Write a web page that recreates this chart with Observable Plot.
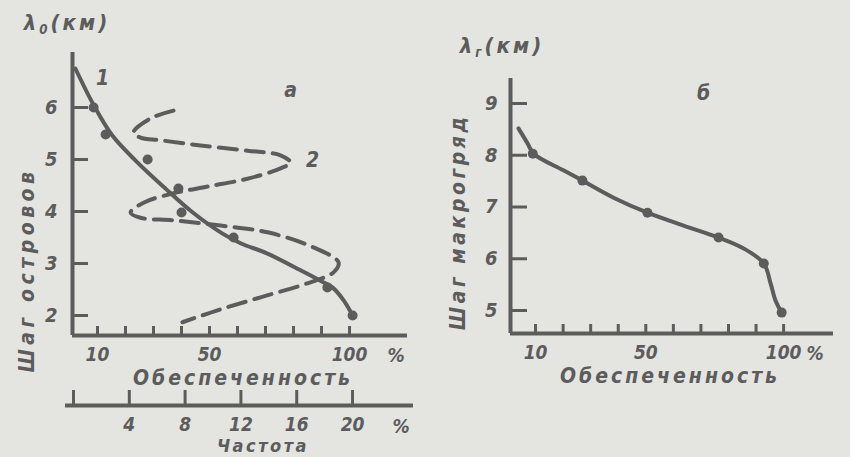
<!DOCTYPE html>
<html><head><meta charset="utf-8">
<script src="https://cdn.jsdelivr.net/npm/d3@7"></script>
<script src="https://cdn.jsdelivr.net/npm/@observablehq/plot@0.6"></script>
<style>
body{margin:0;background:#e4e4e1;}
#wrap{position:relative;width:850px;height:457px;overflow:hidden;background:#e4e4e1;font-family:"DejaVu Sans Condensed","DejaVu Sans";font-stretch:condensed;font-style:italic;font-weight:bold;color:#5c5c5c;}
#wrap svg{position:absolute;top:0;overflow:visible;}
#wrap svg text{font-style:italic;font-weight:bold;font-stretch:condensed;}
.lbl{position:absolute;white-space:nowrap;line-height:1;transform:translate(-50%,-50%);}
.lbl sub{font-size:60%;vertical-align:-0.35em;}
</style></head>
<body><div id="wrap"></div>
<script>
const INK = "#5c5c5c";

// ---- Panel а: curve 1 (Обеспеченность, %) vs Шаг островов λ0 (км)
const a_curve_p = [2.1, 8.7, 15.3, 23.6, 34.3, 43.8, 54.5, 61.1, 70.7, 82.5, 89.6, 93.9, 97.9, 101.1];
const a_curve_y = [6.75, 6.04, 5.46, 4.98, 4.44, 3.99, 3.58, 3.39, 3.19, 2.87, 2.67, 2.54, 2.29, 2.0];
const a_dots_p = [8.6, 12.9, 27.9, 38.9, 40.0, 58.6, 92.1, 101.1];
const a_dots_y = [6.0, 5.48, 5.0, 4.44, 3.98, 3.5, 2.54, 2.0];
// ---- Panel а: curve 2 (Частота, %) vs Шаг островов
const a_freq_f = [7.17, 5.52, 4.30, 4.80, 6.24, 9.10, 12.47, 14.84, 15.56, 14.84, 12.47, 9.61, 7.17, 5.02, 4.09, 4.80, 7.17, 10.54, 13.91, 17.20, 19.0, 18.64, 16.77, 13.41, 10.32, 7.81];
const a_freq_y = [5.94, 5.79, 5.52, 5.42, 5.37, 5.27, 5.17, 5.08, 4.94, 4.83, 4.63, 4.48, 4.35, 4.17, 3.98, 3.88, 3.83, 3.73, 3.60, 3.31, 3.02, 2.83, 2.62, 2.35, 2.10, 1.87];
// ---- Panel б: Обеспеченность vs Шаг макрогряд λг (км)
const b_curve_p = [3.8, 7.1, 9.3, 20.1, 27.0, 38.3, 50.6, 63.7, 76.4, 85.5, 92.8, 95.3, 97.1, 99.3];
const b_curve_y = [8.52, 8.23, 8.03, 7.71, 7.51, 7.18, 6.89, 6.64, 6.41, 6.20, 5.91, 5.52, 5.19, 4.96];
const b_dots_p = [9.0, 27.0, 50.6, 76.4, 92.8, 99.3];
const b_dots_y = [8.03, 7.51, 6.89, 6.41, 5.91, 4.96];

// ---- ticks
const probTicks = [10, 20, 30, 40, 50, 60, 70, 80, 90, 100];
const probLabels = [10, 50, 100];
const freqTicks = [0, 4, 8, 12, 16, 20];
const freqLabels = [4, 8, 12, 16, 20];
const aYTicks = [2, 3, 4, 5, 6];
const bYTicks = [5, 6, 7, 8, 9];

const zip = (xs, ys) => xs.map((x, i) => ({x, y: ys[i]}));
const wrap = document.getElementById("wrap");
const FONT = "'DejaVu Sans Condensed', 'DejaVu Sans'";
const style = {background: "transparent", color: INK, fontFamily: FONT, fontSize: "19px", overflow: "visible"};
const SW = 4;
const fmt = d3.format("d");

function place(svg, left) { svg.style.left = left + "px"; wrap.appendChild(svg); }

// Panel а main
const aX = [1.07, 120.7], aY = [1.615, 7.058];
place(Plot.plot({
  width: 430, height: 400, marginLeft: 72, marginRight: 23, marginTop: 52, marginBottom: 65,
  x: {domain: aX}, y: {domain: aY}, style,
  marks: [
    Plot.ruleX([aX[0]], {stroke: INK, strokeWidth: SW}),
    Plot.ruleY([aY[0]], {stroke: INK, strokeWidth: SW}),
    Plot.tickX(probTicks, {x: d => d, insetTop: 283 - 9, stroke: INK, strokeWidth: 3}),
    Plot.tickY(aYTicks, {y: d => d, insetRight: 335 - 16, stroke: INK, strokeWidth: 3}),
    Plot.axisX({ticks: probLabels, tickSize: 0, tickPadding: 12, label: null, tickFormat: fmt}),
    Plot.axisY({ticks: aYTicks, tickSize: 0, tickPadding: 15, label: null, fontSize: 20, tickFormat: fmt}),
    Plot.line(zip(a_curve_p, a_curve_y), {x: "x", y: "y", curve: "catmull-rom", stroke: INK, strokeWidth: SW}),
    Plot.dot(zip(a_dots_p, a_dots_y), {x: "x", y: "y", r: 5, fill: INK}),
    Plot.text([{x: 11.8, y: 6.56, t: "1"}, {x: 79, y: 6.33, t: "а"}, {x: 86.8, y: 4.98, t: "2"}],
      {x: "x", y: "y", text: "t", fontSize: 21, fill: INK})
  ]
}), 0);

// Panel а frequency overlay
const fX = [-0.573, 24.37], fY = [0.2692, 7.058];
place(Plot.plot({
  width: 430, height: 457, marginLeft: 65, marginRight: 17, marginTop: 52, marginBottom: 52,
  x: {domain: fX}, y: {domain: fY, axis: null}, style,
  marks: [
    Plot.ruleY([fY[0]], {stroke: INK, strokeWidth: SW}),
    Plot.tickX(freqTicks, {x: d => d, insetTop: 353 - 15, stroke: INK, strokeWidth: 3}),
    Plot.axisX({ticks: freqLabels, tickSize: 0, tickPadding: 12, label: null, tickFormat: fmt}),
    Plot.line(zip(a_freq_f, a_freq_y), {x: "x", y: "y", curve: "catmull-rom", stroke: INK, strokeWidth: SW, strokeDasharray: "18,9"})
  ]
}), 0);

// Panel б
const bX = [0.91, 118.1], bY = [4.556, 9.483];
place(Plot.plot({
  width: 420, height: 400, marginLeft: 80, marginRight: 17, marginTop: 78, marginBottom: 67,
  x: {domain: bX}, y: {domain: bY}, style,
  marks: [
    Plot.ruleX([bX[0]], {stroke: INK, strokeWidth: SW}),
    Plot.ruleY([bY[0]], {stroke: INK, strokeWidth: SW}),
    Plot.tickX(probTicks, {x: d => d, insetTop: 255 - 9, stroke: INK, strokeWidth: 3}),
    Plot.tickY(bYTicks, {y: d => d, insetRight: 323 - 17, stroke: INK, strokeWidth: 3}),
    Plot.axisX({ticks: probLabels, tickSize: 0, tickPadding: 12, label: null, tickFormat: fmt}),
    Plot.axisY({ticks: bYTicks, tickSize: 0, tickPadding: 13, label: null, fontSize: 20, tickFormat: fmt}),
    Plot.line(zip(b_curve_p, b_curve_y), {x: "x", y: "y", curve: "catmull-rom", stroke: INK, strokeWidth: SW}),
    Plot.dot(zip(b_dots_p, b_dots_y), {x: "x", y: "y", r: 5, fill: INK}),
    Plot.text([{x: 71, y: 9.19, t: "б"}], {x: "x", y: "y", text: "t", fontSize: 21, fill: INK})
  ]
}), 430);

// Axis titles (HTML text)
function label(html, cx, cy, size, rot, ls) {
  const d = document.createElement("div");
  d.className = "lbl";
  d.innerHTML = html;
  d.style.left = cx + "px"; d.style.top = cy + "px";
  d.style.fontSize = size + "px";
  if (ls) d.style.letterSpacing = ls + "px";
  if (rot) d.style.transform = "translate(-50%,-50%) rotate(-90deg)";
  wrap.appendChild(d);
}
label("λ<sub>0</sub>(км)", 67, 24, 22, false, 3);
label("λ<sub>г</sub>(км)", 502, 47, 22, false, 3);
label("Шаг островов", 27, 270, 21, true, 4.5);
label("Шаг макрогряд", 458, 222, 21, true, 3.5);
label("Обеспеченность", 243, 378, 21, false, 3);
label("Обеспеченность", 670, 376, 21, false, 3);
label("%", 396, 355, 19);
label("%", 401, 426, 19);
label("%", 815, 353, 19);
label("Частота", 263, 446, 18, false, 2.5);
</script>
</body></html>
